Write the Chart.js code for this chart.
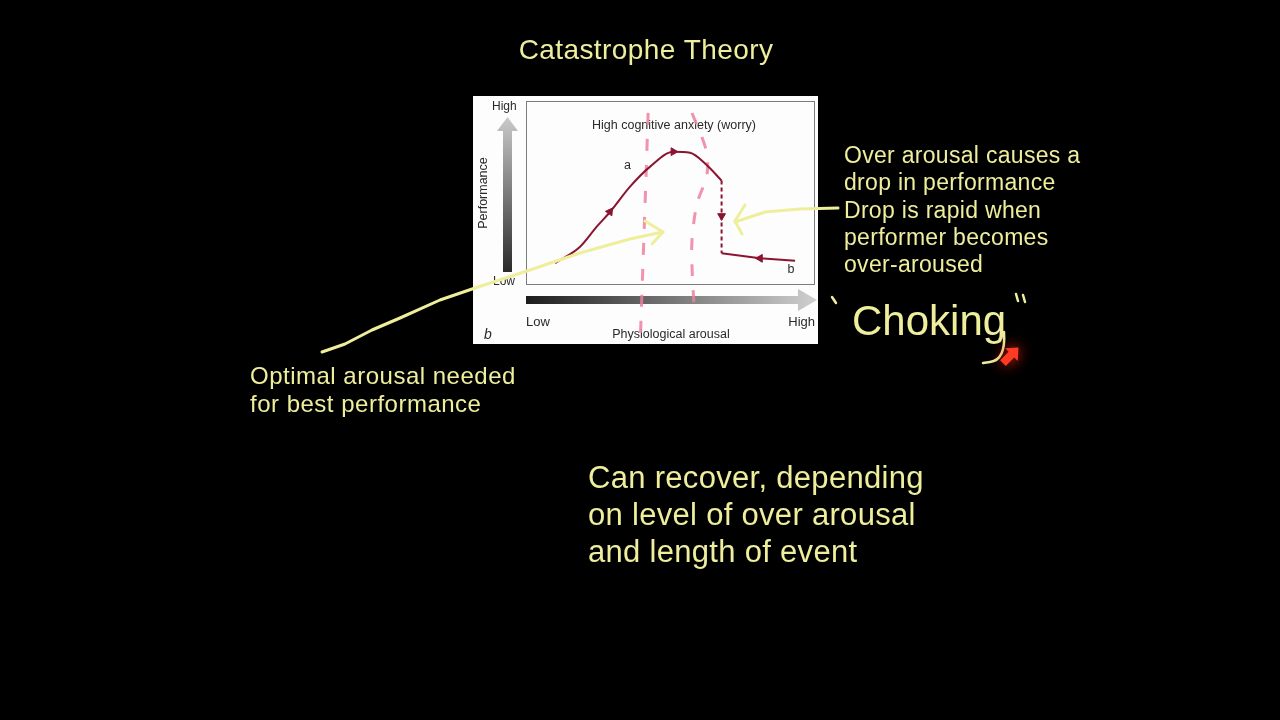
<!DOCTYPE html>
<html>
<head>
<meta charset="utf-8">
<script src="https://cdn.jsdelivr.net/npm/chart.js@4.4.1/dist/chart.umd.min.js"></script>
<style>
  html, body { margin: 0; background: #000; }
  canvas { display: block; }
</style>
</head>
<body>
<canvas id="grafico" width="1280" height="720"></canvas>
<script>
// Datos (escala 0..10 en ambos ejes)
const subidaX = [0.98, 1.85, 2.43, 2.9, 3.59, 4.29, 5.1, 5.68, 6.26, 6.78];
const subidaY = [1.15, 2.05, 3.15, 3.97, 5.35, 6.45, 7.27, 7.21, 6.54, 5.68];
const caidaX = [6.78, 6.78];
const caidaY = [5.68, 1.69];
const bajaX = [6.78, 8.12, 9.34];
const bajaY = [1.69, 1.41, 1.28];
const flechasX = [2.89, 5.1, 6.78, 8.12];
const flechasY = [3.97, 7.27, 3.74, 1.41];
// trazos rosas del presentador
const rosa1X = [4.22, 4.15, 3.94];
const rosa1Y = [9.4, 6.0, -3.4];
const rosa2X = [5.75, 6.24, 6.27, 5.92, 5.75, 5.75, 5.82];
const rosa2Y = [9.4, 7.36, 5.99, 4.40, 2.42, 0.93, -1.21];

const etiquetasCurva = ['a', 'b'];
const etiquetasX = [3.5, 9.2];
const etiquetasY = [6.3, 0.6];

const amarillo = '#eeee9c';
const rojo = '#8a1530';
const rosa = 'rgba(238,128,158,0.85)';
const fuente = "'Liberation Sans', Arial, sans-serif";

const pares = (xs, ys) => xs.map((x, i) => ({ x, y: ys[i] }));

// Fondo negro, recuadro blanco y flechas de los ejes
const fondo = {
  id: 'fondo',
  beforeDraw(chart) {
    const ctx = chart.ctx;
    ctx.save();
    ctx.fillStyle = '#000';
    ctx.fillRect(0, 0, 1280, 720);
    ctx.fillStyle = '#fdfdfd';
    ctx.fillRect(473, 96, 345, 248);
    ctx.strokeStyle = '#7c7c7c';
    ctx.lineWidth = 1;
    ctx.strokeRect(526.5, 101.5, 288, 183);

    // flecha vertical (Performance)
    let g = ctx.createLinearGradient(0, 117, 0, 272);
    g.addColorStop(0, '#cacaca');
    g.addColorStop(1, '#2a2a2a');
    ctx.fillStyle = g;
    ctx.fillRect(503, 129, 9, 143);
    ctx.beginPath();
    ctx.moveTo(497, 131); ctx.lineTo(518, 131); ctx.lineTo(507.5, 117); ctx.closePath();
    ctx.fill();

    // flecha horizontal (Physiological arousal)
    g = ctx.createLinearGradient(526, 0, 817, 0);
    g.addColorStop(0, '#1c1c1c');
    g.addColorStop(1, '#d0d0d0');
    ctx.fillStyle = g;
    ctx.fillRect(526, 296, 274, 8);
    ctx.beginPath();
    ctx.moveTo(798, 289); ctx.lineTo(798, 311); ctx.lineTo(817, 300); ctx.closePath();
    ctx.fill();

    ctx.fillStyle = '#2a2a2a';
    ctx.font = '12px ' + fuente;
    ctx.textAlign = 'left';
    ctx.fillText('High', 492, 110);
    ctx.fillText('Low', 493, 285);
    ctx.font = '13px ' + fuente;
    ctx.fillText('Low', 526, 326);
    ctx.textAlign = 'right';
    ctx.fillText('High', 815, 326);
    ctx.textAlign = 'center';
    ctx.font = '12.5px ' + fuente;
    ctx.fillText('Physiological arousal', 671, 338);
    ctx.fillText('High cognitive anxiety (worry)', 674, 129);
    ctx.font = 'italic 14px ' + fuente;
    ctx.fillText('b', 488, 339);
    ctx.save();
    ctx.translate(487, 193);
    ctx.rotate(-Math.PI / 2);
    ctx.font = '12.5px ' + fuente;
    ctx.fillText('Performance', 0, 0);
    ctx.restore();

    // etiquetas a y b junto a la curva
    const xs = chart.scales.x, ys = chart.scales.y;
    ctx.font = '12.5px ' + fuente;
    etiquetasCurva.forEach((t, i) => {
      ctx.fillText(t, xs.getPixelForValue(etiquetasX[i]), ys.getPixelForValue(etiquetasY[i]));
    });
    ctx.restore();
  }
};

function trazo(ctx, pts) {
  ctx.beginPath();
  ctx.moveTo(pts[0][0], pts[0][1]);
  for (let i = 1; i < pts.length; i++) ctx.lineTo(pts[i][0], pts[i][1]);
  ctx.stroke();
}

// Anotaciones amarillas del presentador
const notas = {
  id: 'notas',
  afterDraw(chart) {
    const ctx = chart.ctx;
    ctx.save();
    ctx.fillStyle = amarillo;
    ctx.textAlign = 'center';
    ctx.font = '28px ' + fuente;
    ctx.letterSpacing = '0.4px';
    ctx.fillText('Catastrophe Theory', 646, 59);
    ctx.textAlign = 'left';

    ctx.font = '23px ' + fuente;
    ctx.letterSpacing = '0.3px';
    ['Over arousal causes a', 'drop in performance', 'Drop is rapid when', 'performer becomes', 'over-aroused']
      .forEach((t, i) => ctx.fillText(t, 844, 163 + i * 27.3));
    ctx.font = '24px ' + fuente;
    ctx.letterSpacing = '0.5px';
    ['Optimal arousal needed', 'for best performance']
      .forEach((t, i) => ctx.fillText(t, 250, 384 + i * 28));
    ctx.font = '31px ' + fuente;
    ctx.letterSpacing = '0.3px';
    ['Can recover, depending', 'on level of over arousal', 'and length of event']
      .forEach((t, i) => ctx.fillText(t, 588, 488 + i * 37));
    ctx.letterSpacing = '0px';

    // flechas a mano
    ctx.strokeStyle = amarillo;
    ctx.lineWidth = 3;
    ctx.lineCap = 'round';
    ctx.lineJoin = 'round';
    trazo(ctx, [[322, 352], [345, 344], [372, 330], [400, 318], [440, 300], [475, 288], [530, 270], [580, 253], [630, 239], [663, 232]]);
    trazo(ctx, [[645, 221], [663, 232], [652, 244]]);
    trazo(ctx, [[838, 208], [800, 209], [765, 212], [735, 222]]);
    trazo(ctx, [[745, 205], [735, 221], [742, 234]]);

    // "Choking" manuscrito
    ctx.lineWidth = 2.5;
    ctx.font = '42px ' + fuente;
    ctx.fillText('Choking', 852, 335);
    trazo(ctx, [[832, 297], [836, 303]]);
    trazo(ctx, [[1016, 294], [1018, 301]]);
    trazo(ctx, [[1023, 295], [1025, 302]]);
    ctx.beginPath();
    ctx.moveTo(1004, 332);
    ctx.quadraticCurveTo(1006, 360, 990, 362);
    ctx.lineTo(983, 363);
    ctx.stroke();

    // cursor rojo
    ctx.translate(1010, 356);
    ctx.rotate(Math.PI / 4);
    ctx.shadowColor = 'rgba(255,40,20,0.9)';
    ctx.shadowBlur = 14;
    ctx.fillStyle = '#ff3a22';
    ctx.beginPath();
    ctx.moveTo(0, -12); ctx.lineTo(9, -2); ctx.lineTo(4, -2); ctx.lineTo(4, 10);
    ctx.lineTo(-4, 10); ctx.lineTo(-4, -2); ctx.lineTo(-9, -2); ctx.closePath();
    ctx.fill();
    ctx.restore();
  }
};

new Chart(document.getElementById('grafico'), {
  type: 'line',
  data: {
    datasets: [
      {
        data: pares(flechasX, flechasY), showLine: false,
        pointStyle: 'triangle', pointRadius: 4.5, pointRotation: [35, 90, 180, 270],
        backgroundColor: rojo, borderColor: rojo, borderWidth: 1
      },
      { data: pares(subidaX, subidaY), borderColor: rojo, borderWidth: 2, pointRadius: 0, cubicInterpolationMode: 'monotone' },
      { data: pares(caidaX, caidaY), borderColor: rojo, borderWidth: 2, pointRadius: 0, borderDash: [4, 3] },
      { data: pares(bajaX, bajaY), borderColor: rojo, borderWidth: 2, pointRadius: 0, tension: 0 },
      { data: pares(rosa1X, rosa1Y), borderColor: rosa, borderWidth: 3, pointRadius: 0, borderDash: [12, 14], clip: false },
      { data: pares(rosa2X, rosa2Y), borderColor: rosa, borderWidth: 3, pointRadius: 0, borderDash: [12, 14], clip: false, tension: 0.3 }
    ]
  },
  options: {
    responsive: false,
    animation: false,
    layout: { padding: { left: 527, top: 102, right: 466, bottom: 436 } },
    plugins: { legend: { display: false }, tooltip: { enabled: false } },
    scales: {
      x: { type: 'linear', min: 0, max: 10, display: false },
      y: { min: 0, max: 10, display: false }
    }
  },
  plugins: [fondo, notas]
});
</script>
</body>
</html>
